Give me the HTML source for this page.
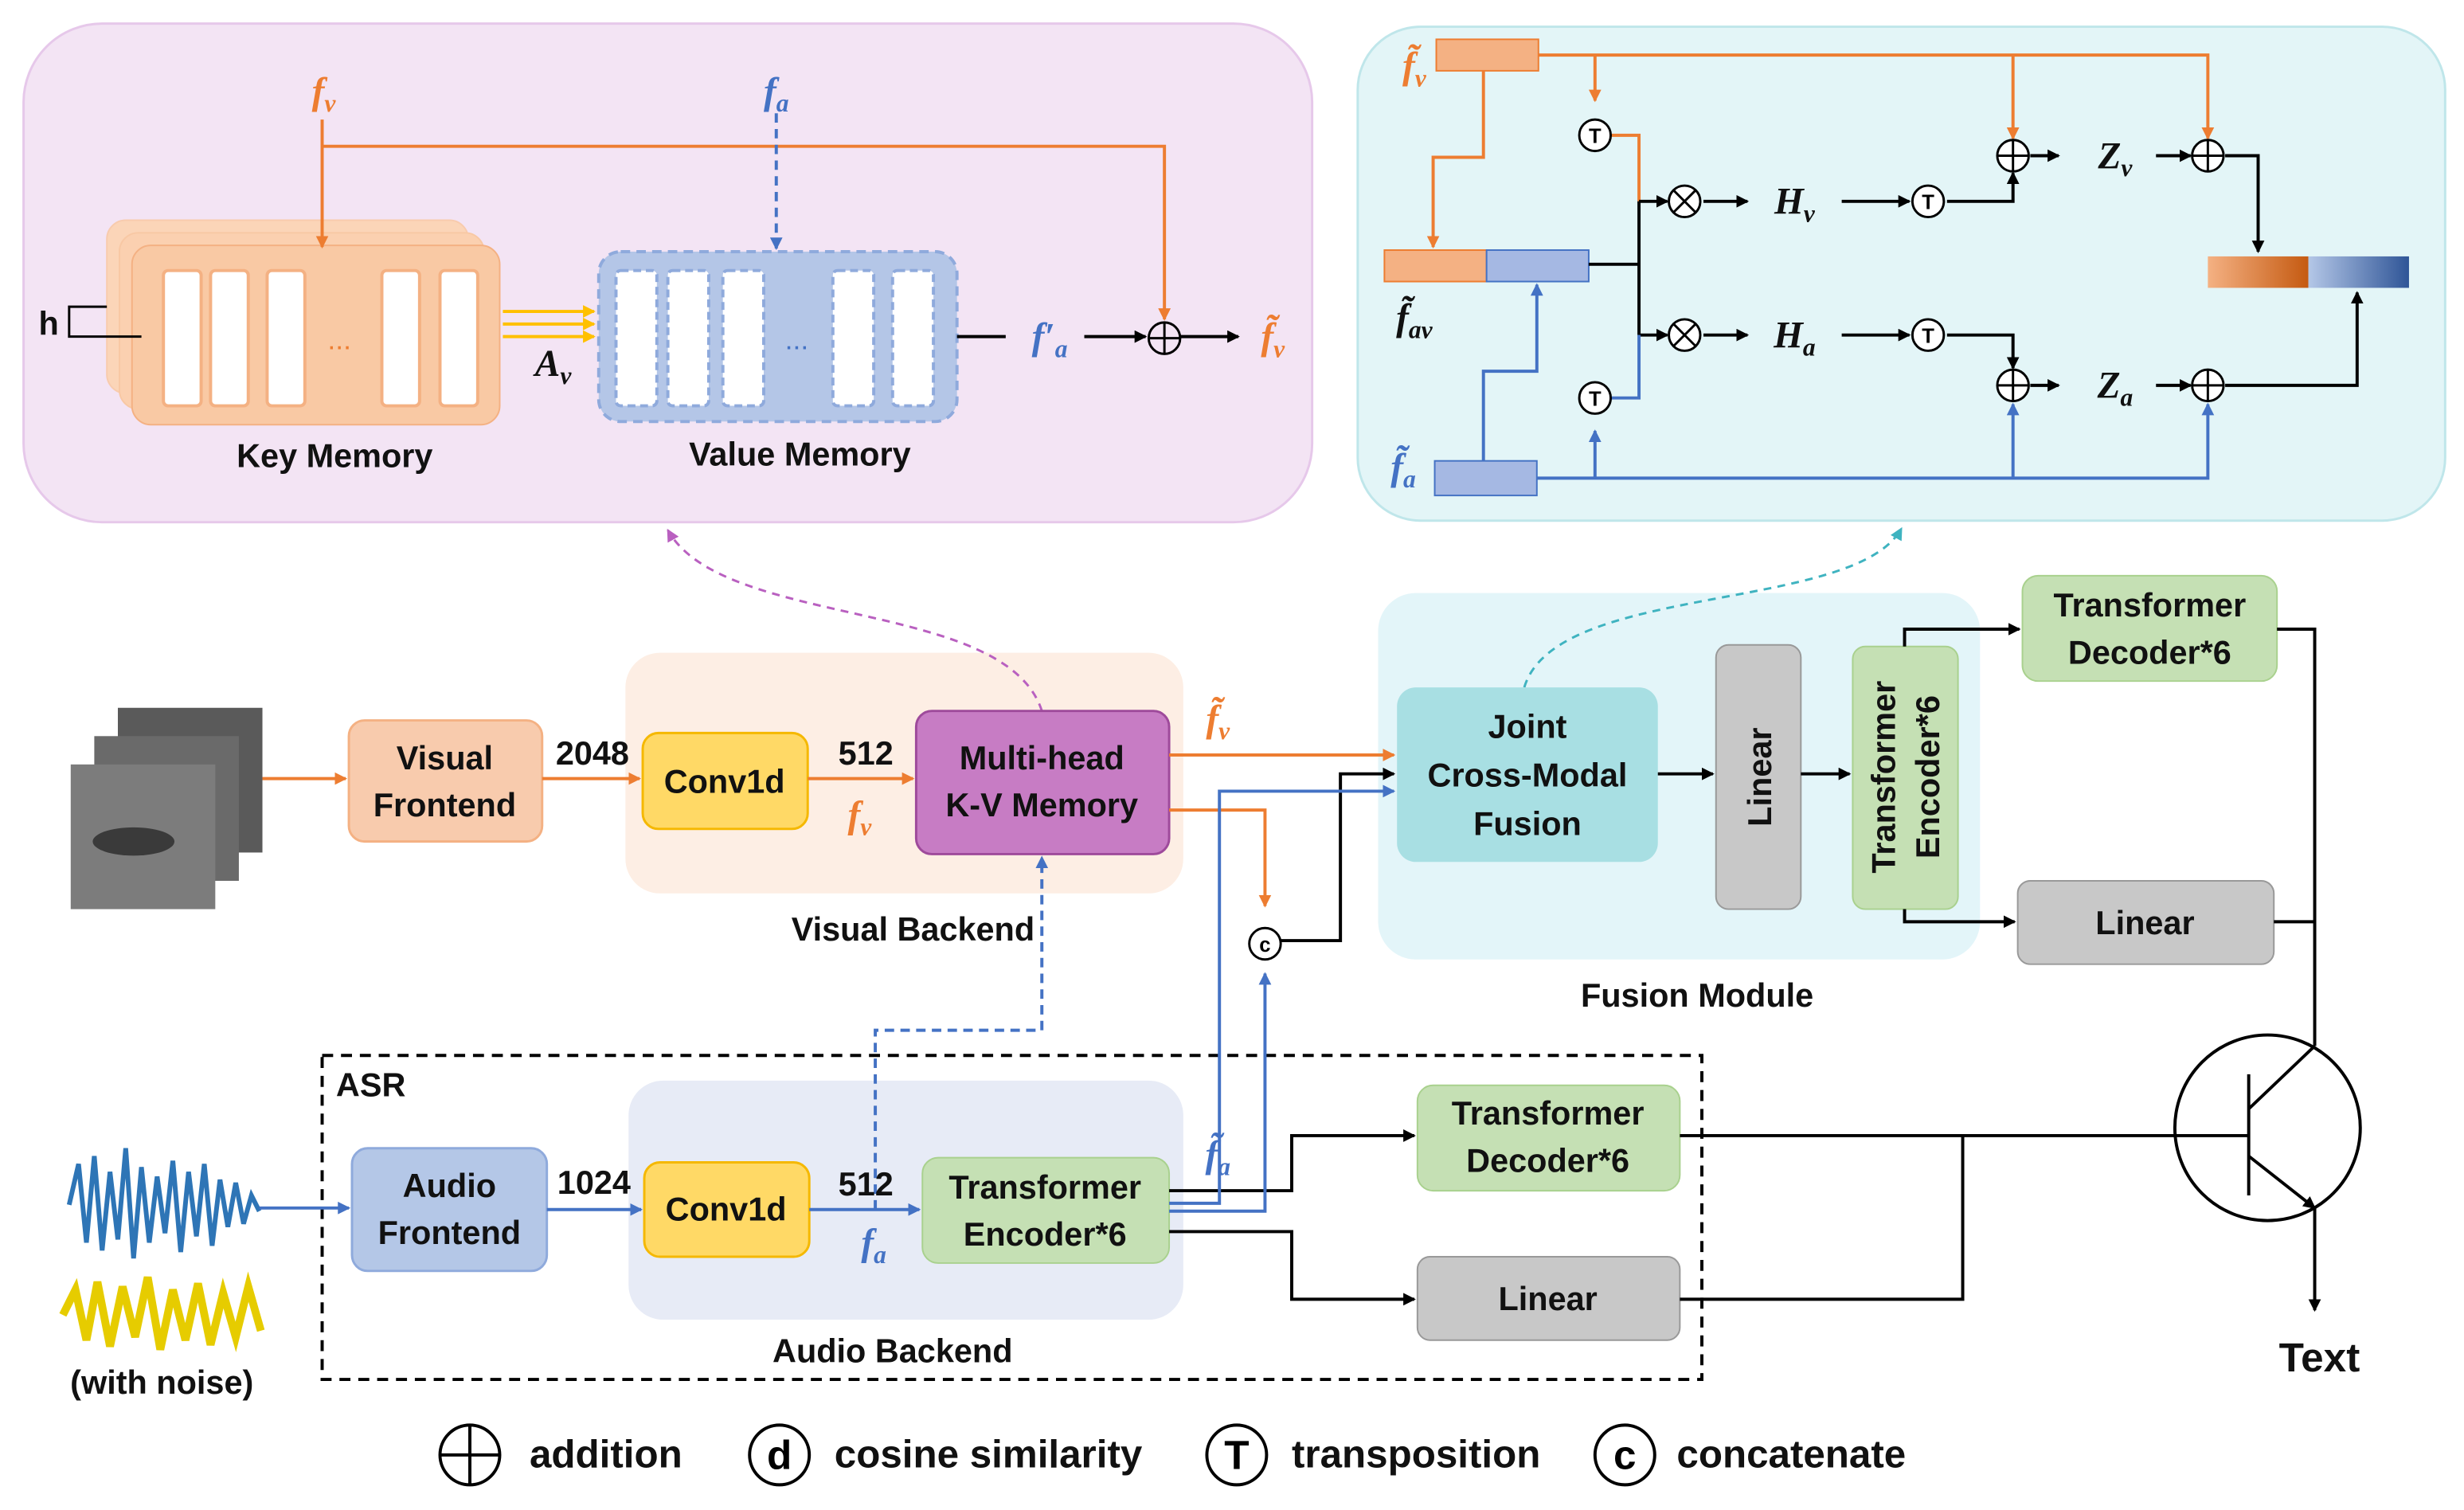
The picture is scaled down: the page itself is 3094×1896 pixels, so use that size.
<!DOCTYPE html>
<html><head><meta charset="utf-8"><style>
html,body{margin:0;padding:0;background:#fff}
svg{display:block}
.l{font-family:"Liberation Sans",sans-serif;font-weight:bold;font-size:21px;fill:#111;text-anchor:middle}
.m{font-family:"Liberation Serif",serif;font-style:italic;font-weight:bold;font-size:24px;text-anchor:middle}
</style></head><body>
<svg width="3094" height="1896" viewBox="0 0 1568 960" preserveAspectRatio="none" xmlns="http://www.w3.org/2000/svg">
<defs>
<marker id="ak" markerWidth="8" markerHeight="8" refX="7" refY="4" orient="auto" markerUnits="userSpaceOnUse"><path d="M0,0 L8,4 L0,8z" fill="#000"/></marker>
<marker id="ao" markerWidth="8" markerHeight="8" refX="7" refY="4" orient="auto" markerUnits="userSpaceOnUse"><path d="M0,0 L8,4 L0,8z" fill="#ed7d31"/></marker>
<marker id="ab" markerWidth="8" markerHeight="8" refX="7" refY="4" orient="auto" markerUnits="userSpaceOnUse"><path d="M0,0 L8,4 L0,8z" fill="#4472c4"/></marker>
<marker id="ay" markerWidth="8" markerHeight="8" refX="7" refY="4" orient="auto" markerUnits="userSpaceOnUse"><path d="M0,0 L8,4 L0,8z" fill="#ffc000"/></marker>
<marker id="ap" markerWidth="8" markerHeight="8" refX="7" refY="4" orient="auto" markerUnits="userSpaceOnUse"><path d="M0,0 L8,4 L0,8z" fill="#b960c0"/></marker>
<marker id="at" markerWidth="8" markerHeight="8" refX="7" refY="4" orient="auto" markerUnits="userSpaceOnUse"><path d="M0,0 L8,4 L0,8z" fill="#3fb3c0"/></marker>
<linearGradient id="g1"><stop offset="0" stop-color="#f4b183"/><stop offset="0.5" stop-color="#c55a11"/><stop offset="0.5" stop-color="#b4c7e7"/><stop offset="1" stop-color="#2f5597"/></linearGradient>
</defs>
<!-- panels -->
<rect x="15" y="15" width="820" height="317" rx="50" fill="#f3e4f4" stroke="#e6c8ea" stroke-width="1.5"/>
<rect x="864" y="17" width="692" height="314" rx="40" fill="#e3f5f7" stroke="#bfe6ea" stroke-width="1.5"/>
<!-- key memory -->
<rect x="68" y="140" width="230" height="110" rx="12" fill="#fbd5b8" stroke="#f8cbad"/>
<rect x="76" y="148" width="232" height="112" rx="12" fill="#fbd0b0" stroke="#f8c8a4"/>
<rect x="84" y="156" width="234" height="114" rx="12" fill="#f9c9a4" stroke="#f4b183"/>
<g fill="#fff" stroke="#f4b183" stroke-width="2">
<rect x="104" y="172" width="24" height="86" rx="3"/><rect x="134" y="172" width="24" height="86" rx="3"/><rect x="170" y="172" width="24" height="86" rx="3"/><rect x="243" y="172" width="24" height="86" rx="3"/><rect x="280" y="172" width="24" height="86" rx="3"/></g>
<text x="216" y="222" font-family="Liberation Sans" font-size="18" fill="#ed7d31" text-anchor="middle">...</text>
<path d="M90,214 H44 V195 H68" fill="none" stroke="#000" stroke-width="1.5"/>
<text x="31" y="213" class="l">h</text>
<rect x="381" y="160" width="228" height="108" rx="14" fill="#b4c6e7" stroke="#8faadc" stroke-width="2" stroke-dasharray="6,4"/>
<g fill="#fff" stroke="#8faadc" stroke-width="2" stroke-dasharray="5,3">
<rect x="392" y="172" width="26" height="86" rx="3"/><rect x="425" y="172" width="26" height="86" rx="3"/><rect x="460" y="172" width="26" height="86" rx="3"/><rect x="530" y="172" width="26" height="86" rx="3"/><rect x="568" y="172" width="26" height="86" rx="3"/></g>
<text x="507" y="222" font-family="Liberation Sans" font-size="18" fill="#4472c4" text-anchor="middle">...</text>
<text x="213" y="297" class="l">Key Memory</text>
<text x="509" y="296" class="l">Value Memory</text>
<text x="206" y="66" class="m" fill="#ed7d31">f<tspan font-size="16" dy="5">v</tspan></text>
<text x="494" y="66" class="m" fill="#4472c4">f<tspan font-size="16" dy="5">a</tspan></text>
<path d="M205,76 V157" stroke="#ed7d31" stroke-width="2" fill="none" marker-end="url(#ao)"/>
<path d="M205,93 H741 V203" stroke="#ed7d31" stroke-width="2" fill="none" marker-end="url(#ao)"/>
<path d="M494,72 V158" stroke="#4472c4" stroke-width="2" stroke-dasharray="6,4" fill="none" marker-end="url(#ab)"/>
<g stroke="#ffc000" stroke-width="2" fill="none" marker-end="url(#ay)"><path d="M320,198 H378"/><path d="M320,206 H378"/><path d="M320,214 H378"/></g>
<text x="352" y="239" class="m" fill="#111">A<tspan font-size="16" dy="5">v</tspan></text>
<path d="M609,214 H640" stroke="#000" stroke-width="2"/>
<text x="668" y="222" class="m" fill="#4472c4">f′<tspan font-size="16" dy="5">a</tspan></text>
<path d="M690,214 H729" stroke="#000" stroke-width="2" marker-end="url(#ak)"/>
<circle cx="741" cy="215" r="10" fill="none" stroke="#000" stroke-width="1.5"/><path d="M731,215H751M741,205V225" stroke="#000" stroke-width="1.5"/>
<path d="M751,214 H788" stroke="#000" stroke-width="2" marker-end="url(#ak)"/>
<text x="810" y="222" class="m" fill="#ed7d31">f̃<tspan font-size="16" dy="5">v</tspan></text>
<!-- top right -->
<rect x="914" y="25" width="65" height="20" fill="#f4b183" stroke="#ed7d31"/>
<rect x="881" y="159" width="65" height="20" fill="#f4b183" stroke="#ed7d31"/>
<rect x="946" y="159" width="65" height="20" fill="#a5b8e3" stroke="#4472c4"/>
<rect x="913" y="293" width="65" height="22" fill="#a5b8e3" stroke="#4472c4"/>
<rect x="1405" y="163" width="128" height="20" fill="url(#g1)"/>
<text x="900" y="50" class="m" fill="#ed7d31">f̃<tspan font-size="16" dy="5">v</tspan></text>
<text x="900" y="210" class="m" fill="#111">f̃<tspan font-size="16" dy="5">av</tspan></text>
<text x="893" y="305" class="m" fill="#4472c4">f̃<tspan font-size="16" dy="5">a</tspan></text>
<g stroke="#ed7d31" stroke-width="2" fill="none">
<path d="M979,35 H1405 V88" marker-end="url(#ao)"/>
<path d="M1015,35 V64" marker-end="url(#ao)"/>
<path d="M1281,35 V88" marker-end="url(#ao)"/>
<path d="M944,45 V100 H912 V157" marker-end="url(#ao)"/>
<path d="M1025,86 H1043 V128"/>
</g>
<g stroke="#000" stroke-width="2" fill="none">
<path d="M1011,168 H1043 M1043,128 V213"/>
<path d="M1043,128 H1061" marker-end="url(#ak)"/><path d="M1043,213 H1061" marker-end="url(#ak)"/>
<path d="M1084,128 H1112" marker-end="url(#ak)"/><path d="M1084,213 H1112" marker-end="url(#ak)"/>
<path d="M1172,128 H1215" marker-end="url(#ak)"/><path d="M1172,213 H1215" marker-end="url(#ak)"/>
<path d="M1239,128 H1281 V110" marker-end="url(#ak)"/>
<path d="M1239,213 H1281 V234" marker-end="url(#ak)"/>
<path d="M1292,99 H1310" marker-end="url(#ak)"/><path d="M1292,245 H1310" marker-end="url(#ak)"/>
<path d="M1372,99 H1394" marker-end="url(#ak)"/><path d="M1372,245 H1394" marker-end="url(#ak)"/>
<path d="M1416,99 H1437 V160" marker-end="url(#ak)"/>
<path d="M1416,245 H1500 V186" marker-end="url(#ak)"/>
</g>
<g stroke="#4472c4" stroke-width="2" fill="none">
<path d="M978,304 H1405 V257" marker-end="url(#ab)"/>
<path d="M1281,304 V257" marker-end="url(#ab)"/>
<path d="M1015,304 V274" marker-end="url(#ab)"/>
<path d="M1025,253 H1043 V213"/>
<path d="M944,293 V236 H978 V181" marker-end="url(#ab)"/>
</g>
<g fill="#fff" stroke="#000" stroke-width="1.5">
<circle cx="1015" cy="86" r="10"/><circle cx="1015" cy="253" r="10"/><circle cx="1227" cy="128" r="10"/><circle cx="1227" cy="213" r="10"/>
<circle cx="1072" cy="128" r="10"/><circle cx="1072" cy="213" r="10"/>
<circle cx="1281" cy="99" r="10"/><circle cx="1281" cy="245" r="10"/><circle cx="1405" cy="99" r="10"/><circle cx="1405" cy="245" r="10"/></g>
<g font-family="Liberation Sans" font-weight="bold" font-size="13" text-anchor="middle">
<text x="1015" y="91">T</text><text x="1015" y="258">T</text><text x="1227" y="133">T</text><text x="1227" y="218">T</text></g>
<g stroke="#000" stroke-width="1.5">
<path d="M1065,121 L1079,135 M1079,121 L1065,135 M1065,206 L1079,220 M1079,206 L1065,220"/>
<path d="M1271,99H1291M1281,89V109 M1271,245H1291M1281,235V255 M1395,99H1415M1405,89V109 M1395,245H1415M1405,235V255"/></g>
<text x="1142" y="136" class="m" fill="#111">H<tspan font-size="16" dy="5">v</tspan></text>
<text x="1142" y="221" class="m" fill="#111">H<tspan font-size="16" dy="5">a</tspan></text>
<text x="1346" y="107" class="m" fill="#111">Z<tspan font-size="16" dy="5">v</tspan></text>
<text x="1346" y="253" class="m" fill="#111">Z<tspan font-size="16" dy="5">a</tspan></text>
<!-- backends -->
<rect x="398" y="415" width="355" height="153" rx="22" fill="#fdeee4"/>
<rect x="877" y="377" width="383" height="233" rx="24" fill="#e3f5f9"/>
<rect x="400" y="687" width="353" height="152" rx="22" fill="#e7ebf6"/>
<!-- dashed curves -->
<path d="M663,452 C640,380 460,400 425,337" stroke="#b960c0" stroke-width="1.5" stroke-dasharray="5,4" fill="none" marker-end="url(#ap)"/>
<path d="M970,437 C990,370 1180,390 1210,336" stroke="#3fb3c0" stroke-width="1.5" stroke-dasharray="5,4" fill="none" marker-end="url(#at)"/>
<text x="581" y="598" class="l">Visual Backend</text>
<text x="1080" y="640" class="l">Fusion Module</text>
<text x="568" y="866" class="l">Audio Backend</text>
<rect x="205" y="671" width="878" height="206" fill="none" stroke="#000" stroke-width="2" stroke-dasharray="7,5"/>
<text x="236" y="697" class="l">ASR</text>
<!-- faces -->
<rect x="75" y="450" width="92" height="92" fill="#5a5a5a"/>
<rect x="60" y="468" width="92" height="92" fill="#6a6a6a"/>
<rect x="45" y="486" width="92" height="92" fill="#7c7c7c"/>
<ellipse cx="85" cy="535" rx="26" ry="9" fill="#3a3a3a"/>
<!-- waves -->
<path d="M44,766 L50,740 L55,790 L60,735 L65,795 L70,745 L75,788 L80,730 L85,800 L90,742 L95,790 L100,748 L105,784 L110,738 L115,796 L120,745 L125,786 L130,740 L135,792 L140,750 L145,780 L150,752 L155,778 L160,760 L165,770" stroke="#2e75b6" stroke-width="3" fill="none"/>
<path d="M40,836 L48,820 L55,852 L62,815 L70,856 L78,818 L86,850 L94,812 L102,858 L110,820 L118,852 L126,816 L134,855 L142,822 L150,850 L158,818 L166,846" stroke="#e6cc00" stroke-width="5" fill="none"/>
<text x="103" y="886" class="l">(with noise)</text>
<!-- boxes -->
<rect x="222" y="458" width="123" height="77" rx="10" fill="#f8cbad" stroke="#f4b183" stroke-width="1.5"/>
<text x="283" y="489" class="l">Visual</text><text x="283" y="519" class="l">Frontend</text>
<rect x="409" y="466" width="105" height="61" rx="10" fill="#ffd966" stroke="#f5b800" stroke-width="1.5"/>
<text x="461" y="504" class="l">Conv1d</text>
<rect x="583" y="452" width="161" height="91" rx="10" fill="#c77cc4" stroke="#9e4a9b" stroke-width="1.5"/>
<text x="663" y="489" class="l">Multi-head</text><text x="663" y="519" class="l">K-V Memory</text>
<rect x="889" y="437" width="166" height="111" rx="12" fill="#a8dfe3"/>
<text x="972" y="469" class="l">Joint</text><text x="972" y="500" class="l">Cross-Modal</text><text x="972" y="531" class="l">Fusion</text>
<rect x="1092" y="410" width="54" height="168" rx="8" fill="#c8c8c8" stroke="#999"/>
<text transform="translate(1127,494) rotate(-90)" class="l">Linear</text>
<rect x="1179" y="411" width="67" height="167" rx="8" fill="#c5e0b4" stroke="#a9d18e"/>
<text transform="translate(1206,494) rotate(-90)" class="l">Transformer</text>
<text transform="translate(1234,494) rotate(-90)" class="l">Encoder*6</text>
<rect x="1287" y="366" width="162" height="67" rx="10" fill="#c5e0b4" stroke="#a9d18e"/>
<text x="1368" y="392" class="l">Transformer</text><text x="1368" y="422" class="l">Decoder*6</text>
<rect x="1284" y="560" width="163" height="53" rx="8" fill="#c8c8c8" stroke="#999"/>
<text x="1365" y="594" class="l">Linear</text>
<rect x="224" y="730" width="124" height="78" rx="10" fill="#b4c7e7" stroke="#8faadc" stroke-width="1.5"/>
<text x="286" y="761" class="l">Audio</text><text x="286" y="791" class="l">Frontend</text>
<rect x="410" y="739" width="105" height="60" rx="10" fill="#ffd966" stroke="#f5b800" stroke-width="1.5"/>
<text x="462" y="776" class="l">Conv1d</text>
<rect x="587" y="736" width="157" height="67" rx="10" fill="#c5e0b4" stroke="#a9d18e"/>
<text x="665" y="762" class="l">Transformer</text><text x="665" y="792" class="l">Encoder*6</text>
<rect x="902" y="690" width="167" height="67" rx="10" fill="#c5e0b4" stroke="#a9d18e"/>
<text x="985" y="715" class="l">Transformer</text><text x="985" y="745" class="l">Decoder*6</text>
<rect x="902" y="799" width="167" height="53" rx="8" fill="#c8c8c8" stroke="#999"/>
<text x="985" y="833" class="l">Linear</text>
<!-- mid connectors -->
<g stroke="#ed7d31" stroke-width="2" fill="none">
<path d="M167,495 H220" marker-end="url(#ao)"/>
<path d="M345,495 H407" marker-end="url(#ao)"/>
<path d="M514,495 H581" marker-end="url(#ao)"/>
<path d="M744,480 H887" marker-end="url(#ao)"/>
<path d="M744,515 H805 V576" marker-end="url(#ao)"/>
</g>
<text x="377" y="486" class="l">2048</text><text x="551" y="486" class="l">512</text>
<text x="547" y="526" class="m" fill="#ed7d31">f<tspan font-size="16" dy="5">v</tspan></text>
<text x="775" y="465" class="m" fill="#ed7d31">f̃<tspan font-size="16" dy="5">v</tspan></text>
<circle cx="805" cy="600" r="10" fill="#fff" stroke="#000" stroke-width="1.5"/>
<text x="805" y="605" font-family="Liberation Sans" font-weight="bold" font-size="13" text-anchor="middle">c</text>
<g stroke="#000" stroke-width="2" fill="none">
<path d="M815,598 H853 V492 H887" marker-end="url(#ak)"/>
<path d="M1055,492 H1090" marker-end="url(#ak)"/>
<path d="M1146,492 H1177" marker-end="url(#ak)"/>
<path d="M1212,411 V400 H1285" marker-end="url(#ak)"/>
<path d="M1212,578 V586 H1282" marker-end="url(#ak)"/>
<path d="M1449,400 H1473 V665"/>
<path d="M1447,586 H1473"/>
<path d="M744,757 H822 V722 H900" marker-end="url(#ak)"/>
<path d="M744,783 H822 V826 H900" marker-end="url(#ak)"/>
<path d="M1069,722 H1431"/>
<path d="M1069,826 H1249 V722"/>
<path d="M1431,683 V760 M1431,705 L1473,665 M1473,768 V833" marker-end="url(#ak)"/>
</g>
<path d="M1431,735 L1473,768" stroke="#000" stroke-width="2" marker-end="url(#ak)"/>
<circle cx="1443" cy="717" r="59" fill="none" stroke="#000" stroke-width="2"/>
<text x="1476" y="872" class="l" style="font-size:26px">Text</text>
<g stroke="#4472c4" stroke-width="2" fill="none">
<path d="M165,768 H222" marker-end="url(#ab)"/>
<path d="M348,769 H408" marker-end="url(#ab)"/>
<path d="M515,769 H585" marker-end="url(#ab)"/>
<path d="M744,765 H776 V503 H887" marker-end="url(#ab)"/>
<path d="M744,770 H805 V619" marker-end="url(#ab)"/>
<path d="M557,769 V655 H663 V545" stroke-dasharray="6,4" marker-end="url(#ab)"/>
</g>
<text x="378" y="759" class="l">1024</text><text x="551" y="760" class="l">512</text>
<text x="556" y="798" class="m" fill="#4472c4">f<tspan font-size="16" dy="5">a</tspan></text>
<text x="775" y="742" class="m" fill="#4472c4">f̃<tspan font-size="16" dy="5">a</tspan></text>
<!-- legend -->
<g stroke="#000" stroke-width="2" fill="none">
<circle cx="299" cy="925" r="19"/><path d="M280,925H318M299,906V944"/>
<circle cx="496" cy="925" r="19"/><circle cx="787" cy="925" r="19"/><circle cx="1034" cy="925" r="19"/></g>
<g font-family="Liberation Sans" font-weight="bold" font-size="26" text-anchor="middle">
<text x="496" y="934">d</text><text x="787" y="934">T</text><text x="1034" y="934">c</text></g>
<text x="337" y="933" class="l" style="text-anchor:start;font-size:25px">addition</text>
<text x="531" y="933" class="l" style="text-anchor:start;font-size:25px">cosine similarity</text>
<text x="822" y="933" class="l" style="text-anchor:start;font-size:25px">transposition</text>
<text x="1067" y="933" class="l" style="text-anchor:start;font-size:25px">concatenate</text>
</svg>
</body></html>
